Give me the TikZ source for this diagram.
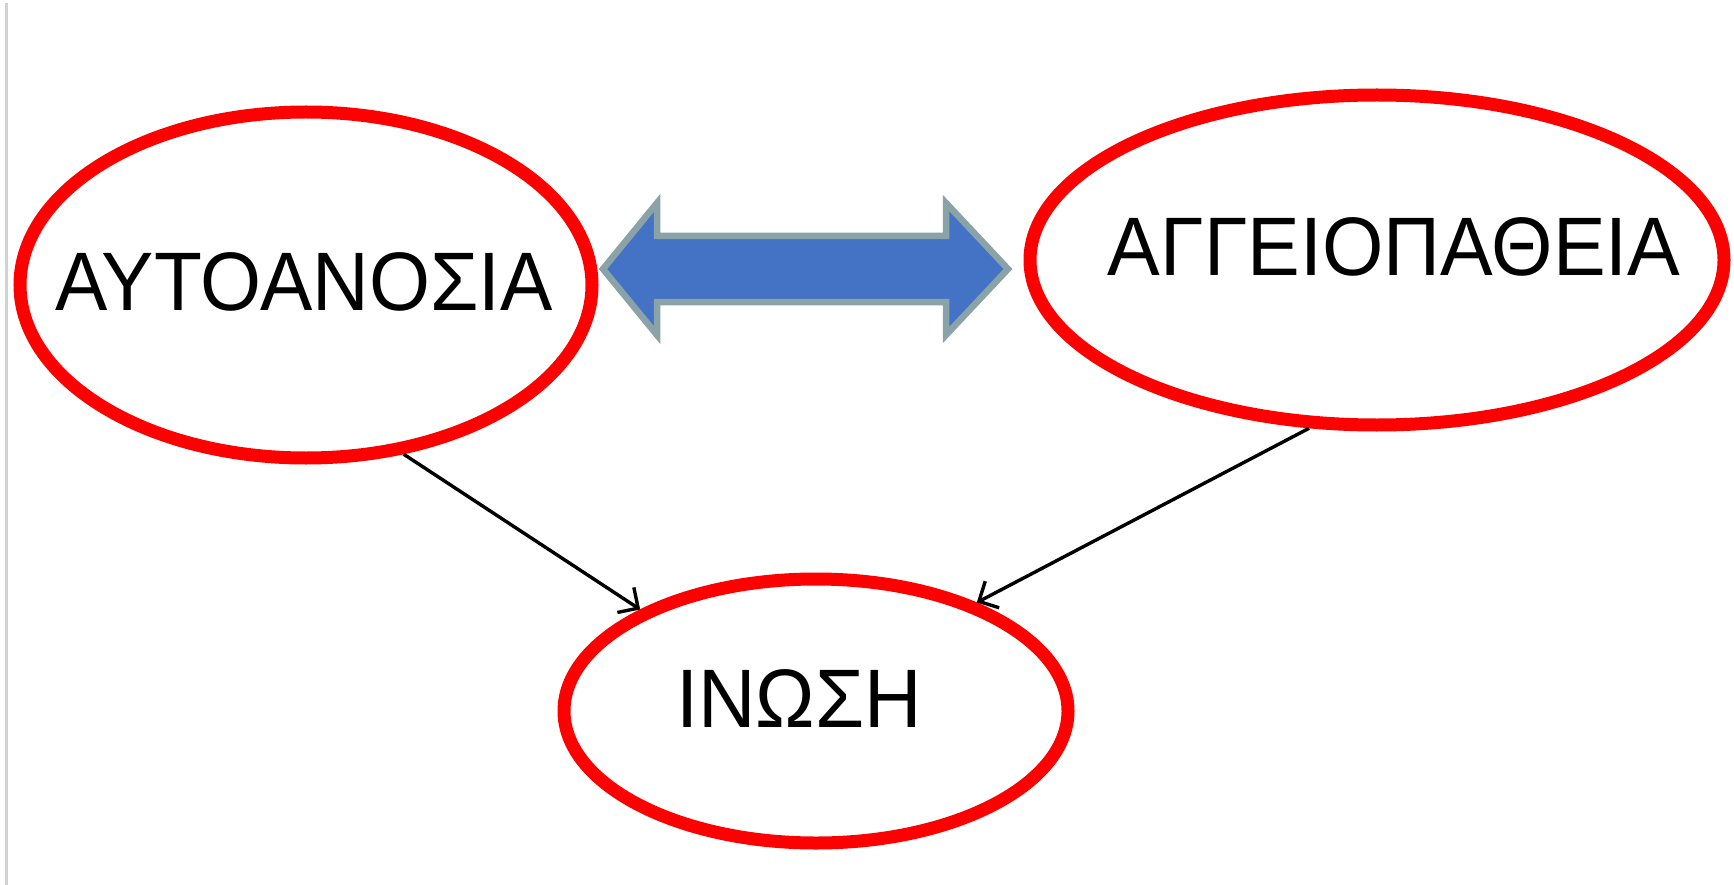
\documentclass[tikz,border=0pt]{standalone}
\usepackage{fontspec}
\setmainfont{Liberation Sans}
\usetikzlibrary{shapes.geometric,arrows.meta}
\begin{document}
\begin{tikzpicture}[x=1pt,y=-1pt,
  oval/.style={ellipse,draw=red,line width=13pt,inner sep=0pt},
  lbl/.style={anchor=base,inner sep=0pt,font=\fontsize{83}{92}\selectfont},
  conn/.style={draw=black,line width=3.4pt,-{Straight Barb[length=15pt,width=30pt,line width=3.4pt]}},
  dblarrow/.style={fill={rgb,255:red,68;green,114;blue,196},draw={rgb,255:red,138;green,163;blue,168},line width=6.5pt,line join=miter}]
\useasboundingbox (0,0) rectangle (1734,885);
\fill[white] (0,0) rectangle (1734,885);
\draw[line width=3pt,color={rgb,255:red,210;green,210;blue,210}] (6,3) -- (6,885);
% ellipses
\node[oval,minimum width=572pt,minimum height=346pt] (L) at (306,285) {};
\node[oval,minimum width=694pt,minimum height=330pt] (R) at (1377,260) {};
\node[oval,minimum width=504pt,minimum height=264pt] (B) at (816,711) {};
% texts
\node[lbl] (tL) at (304,310) {\scalebox{0.945}[1]{ΑΥΤΟΑΝΟΣΙΑ}};
\node[lbl] (tR) at (1394,276) {\scalebox{0.951}[1]{ΑΓΓΕΙΟΠΑΘΕΙΑ}};
\node[lbl] (tB) at (799,727) {\scalebox{0.959}[1]{ΙΝΩΣΗ}};
% double arrow
\draw[dblarrow] (603,269) -- (657,203) -- (657,236) -- (946,236) -- (946,203) -- (1008,269)
  -- (946,335) -- (946,302) -- (657,302) -- (657,335) -- cycle;
% connectors
\draw[conn] (L.-60) -- (B.150);
\draw[conn] (R.-112) -- (B.34);
\end{tikzpicture}
\end{document}
